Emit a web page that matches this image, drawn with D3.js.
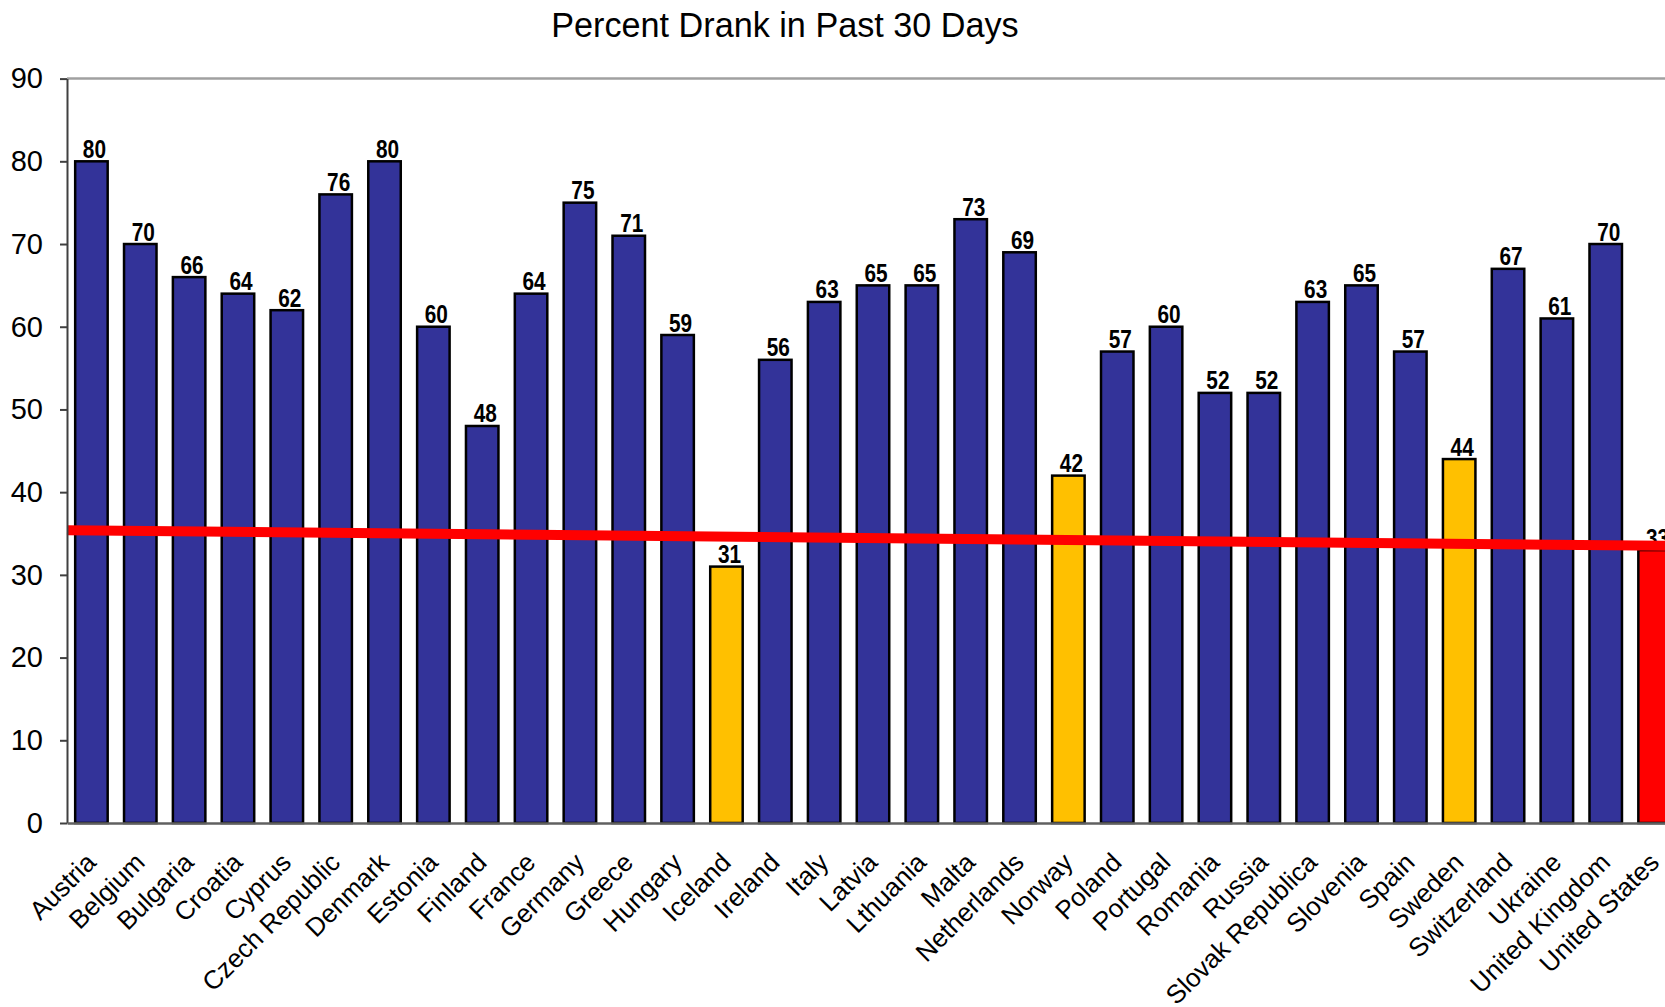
<!DOCTYPE html>
<html>
<head>
<meta charset="utf-8">
<script src="https://cdn.jsdelivr.net/npm/d3@7"></script>
<style>
  html, body { margin: 0; padding: 0; background: #fff; }
  svg { display: block; }
</style>
</head>
<body>
<svg id="chart" width="1665" height="1007"></svg>
<script>
// Countries, in chart order
const categories = [
  "Austria", "Belgium", "Bulgaria", "Croatia", "Cyprus", "Czech Republic",
  "Denmark", "Estonia", "Finland", "France", "Germany", "Greece", "Hungary",
  "Iceland", "Ireland", "Italy", "Latvia", "Lthuania", "Malta", "Netherlands",
  "Norway", "Poland", "Portugal", "Romania", "Russia", "Slovak Republica",
  "Slovenia", "Spain", "Sweden", "Switzerland", "Ukraine", "United Kingdom",
  "United States"
];

// Percent who drank in the past 30 days
const values = [
  80, 70, 66, 64, 62, 76,
  80, 60, 48, 64, 75, 71, 59,
  31, 56, 63, 65, 65, 73, 69,
  42, 57, 60, 52, 52, 63,
  65, 57, 44, 67, 61, 70,
  33
];

// Colour group of each bar
const groups = [
  "base", "base", "base", "base", "base", "base",
  "base", "base", "base", "base", "base", "base", "base",
  "low", "base", "base", "base", "base", "base", "base",
  "low", "base", "base", "base", "base", "base",
  "base", "base", "low", "base", "base", "base",
  "us"
];

// Reference line: value at the left and right ends of the plot
const trendValues = [35.4, 33.5];

const yTicks = [0, 10, 20, 30, 40, 50, 60, 70, 80, 90];

const title = "Percent Drank in Past 30 Days";

const groupColors = { base: "#333399", low: "#FFC000", us: "#FF0000" };

const rows = categories.map((c, i) => ({ country: c, value: values[i], group: groups[i] }));

const svg = d3.select("#chart");
const plotLeft = 67, plotRight = 1679, plotTop = 78.6, plotBottom = 823;

const x = d3.scaleBand()
  .domain(categories)
  .range([plotLeft, plotRight])
  .paddingInner(0.335)
  .paddingOuter(0.1675);

const y = d3.scaleLinear()
  .domain([0, 90])
  .range([plotBottom, plotTop]);

// Title
svg.append("text")
  .attr("x", 785)
  .attr("y", 37)
  .attr("text-anchor", "middle")
  .attr("font-family", "'Liberation Sans', Arial, sans-serif")
  .attr("font-size", 34.2)
  .attr("fill", "#000")
  .text(title);

// Top border of the plot area
svg.append("line")
  .attr("x1", plotLeft).attr("x2", plotRight)
  .attr("y1", y(90)).attr("y2", y(90))
  .attr("stroke", "#A0A0A0")
  .attr("stroke-width", 2.5);

// Bars
svg.append("g")
  .selectAll("rect")
  .data(rows)
  .join("rect")
  .attr("x", d => x(d.country))
  .attr("y", d => y(d.value))
  .attr("width", x.bandwidth())
  .attr("height", d => y(0) - y(d.value))
  .attr("fill", d => groupColors[d.group])
  .attr("stroke", "#000")
  .attr("stroke-width", 2.5);

// Value labels (bold, horizontally condensed)
svg.append("g")
  .selectAll("text")
  .data(rows)
  .join("text")
  .attr("transform", d =>
    `translate(${x(d.country) + x.bandwidth() / 2 + 3},${y(d.value) - 3.5}) scale(0.8,1)`)
  .attr("text-anchor", "middle")
  .attr("font-family", "'Liberation Sans', Arial, sans-serif")
  .attr("font-weight", "bold")
  .attr("font-size", 26)
  .attr("fill", "#000")
  .text(d => d.value);

// Reference line across the plot
const trendX = d3.scaleLinear().domain([0, 1]).range([plotLeft, plotRight]);
svg.append("path")
  .datum(trendValues.map((v, i) => ({ t: i / (trendValues.length - 1), v })))
  .attr("d", d3.line().x(d => trendX(d.t)).y(d => y(d.v)))
  .attr("fill", "none")
  .attr("stroke", "#FF0000")
  .attr("stroke-width", 10);

// Y axis
const yAxis = svg.append("g")
  .attr("transform", `translate(${plotLeft},0)`)
  .call(d3.axisLeft(y).tickValues(yTicks).tickSize(7).tickSizeOuter(0).tickPadding(17));
yAxis.select(".domain").attr("stroke", "#404040").attr("stroke-width", 2);
yAxis.selectAll(".tick line").attr("stroke", "#404040").attr("stroke-width", 2);
yAxis.selectAll(".tick text")
  .attr("font-family", "'Liberation Sans', Arial, sans-serif")
  .attr("font-size", 29)
  .attr("fill", "#000");

// X axis
const xAxis = svg.append("g")
  .attr("transform", `translate(0,${plotBottom})`)
  .call(d3.axisBottom(x).tickSize(0).tickSizeOuter(0));
xAxis.select(".domain").attr("stroke", "#606060").attr("stroke-width", 2.5);
xAxis.selectAll(".tick text")
  .attr("font-family", "'Liberation Sans', Arial, sans-serif")
  .attr("font-size", 26)
  .attr("fill", "#000")
  .attr("text-anchor", "end")
  .attr("x", 0)
  .attr("y", 0)
  .attr("dy", null)
  .attr("transform", "translate(6,41) rotate(-45)");
</script>
</body>
</html>
